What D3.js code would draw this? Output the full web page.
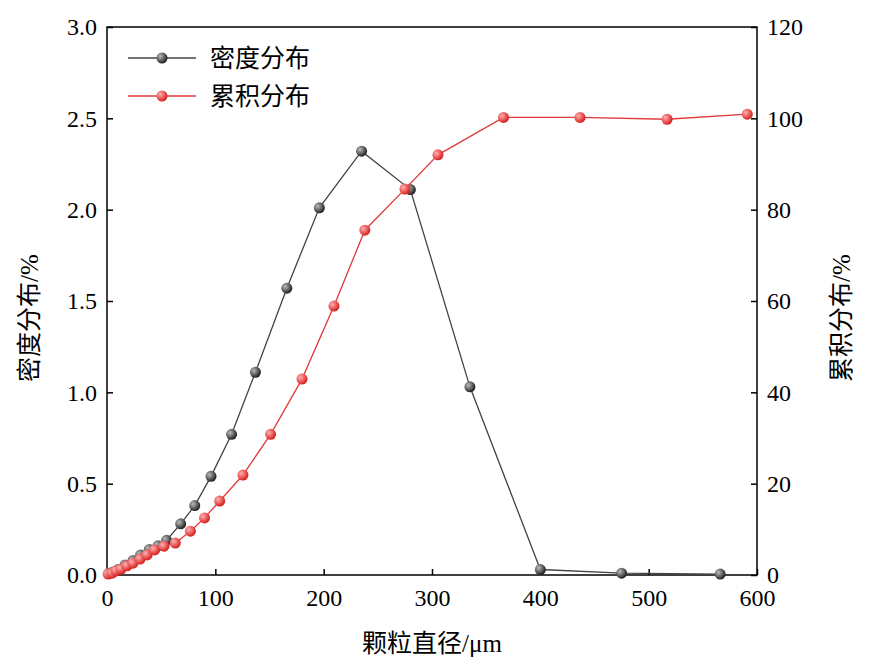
<!DOCTYPE html>
<html><head><meta charset="utf-8">
<script src="https://cdn.jsdelivr.net/npm/d3@7"></script>
<style>body{margin:0;background:#fff}text{font-family:"Liberation Serif","Noto Sans CJK SC",serif}</style>
</head><body>
<script>
// density distribution (%)
var densX = [2,5.5,10,16.6,24,31,39,47,55,68,81,96,115,137,166,196,235,280,335,400,475,566];
var densY = [0.01,0.016,0.03,0.055,0.08,0.11,0.14,0.16,0.19,0.28,0.38,0.54,0.77,1.11,1.57,2.01,2.32,2.11,1.03,0.03,0.01,0.005];
// cumulative distribution (%)
var cumX = [1,4.6,8.3,13,18.5,24,30.5,37,44,52.6,63,77,90,104,125.5,151,180,209.5,238,275,305.5,366,436.6,517,591];
var cumY = [0.2,0.4,0.9,1.3,2,2.6,3.5,4.4,5.5,6.3,7,9.6,12.5,16.2,21.9,30.8,42.9,58.9,75.5,84.5,92,100.2,100.2,99.8,100.9];
var xTicks = [0,100,200,300,400,500,600];
var yTicks = [0,0.5,1,1.5,2,2.5,3];
var y2Ticks = [0,20,40,60,80,100,120];

var w = 875, h = 670;
var svg = d3.select("body").append("svg").attr("width", w).attr("height", h);
var x = d3.scaleLinear().domain([0,600]).range([107,757]);
var y = d3.scaleLinear().domain([0,3]).range([575,27]);
var y2 = d3.scaleLinear().domain([0,120]).range([575,27]);

var defs = svg.append("defs");
function grad(id, c0, c1) {
    var g = defs.append("radialGradient").attr("id", id).attr("cx","35%").attr("cy","35%").attr("r","65%");
    g.append("stop").attr("offset","0%").attr("stop-color", c0);
    g.append("stop").attr("offset","100%").attr("stop-color", c1);
}
grad("gk", "#bbbbbb", "#222222");
grad("gr", "#ffb0b0", "#d82020");

// frame
svg.append("rect").attr("x",107).attr("y",27).attr("width",650).attr("height",548)
    .attr("fill","none").attr("stroke","#000").attr("stroke-width",1.5);

function styleAxis(g) {
    g.selectAll("path").remove();
    g.selectAll("line").attr("stroke","#000").attr("stroke-width",1.5);
    g.selectAll("text").attr("font-size",24).attr("fill","#000");
}
svg.append("g").attr("transform","translate(0,575)")
    .call(d3.axisBottom(x).tickValues(xTicks).tickSize(-6).tickPadding(14)).call(styleAxis);
svg.append("g").attr("transform","translate(107,0)")
    .call(d3.axisLeft(y).tickValues(yTicks).tickFormat(d3.format(".1f")).tickSize(-6).tickPadding(10)).call(styleAxis);
svg.append("g").attr("transform","translate(757,0)")
    .call(d3.axisRight(y2).tickValues(y2Ticks).tickSize(-6).tickPadding(10)).call(styleAxis);

// labels
svg.append("text").attr("x",432).attr("y",652).attr("text-anchor","middle").attr("font-size",25).text("颗粒直径/μm");
svg.append("text").attr("transform","translate(38,318) rotate(-90)").attr("text-anchor","middle").attr("font-size",25).text("密度分布/%");
svg.append("text").attr("transform","translate(850,318) rotate(-90)").attr("text-anchor","middle").attr("font-size",25).text("累积分布/%");

function series(xs, ys, ys2, color, gid) {
    var pts = xs.map(function(d,i){ return [x(d), ys2(ys[i])]; });
    svg.append("path").attr("d", d3.line()(pts)).attr("fill","none").attr("stroke",color).attr("stroke-width",1.3);
    svg.append("g").selectAll("circle").data(pts).enter().append("circle")
        .attr("cx", function(d){ return d[0]; }).attr("cy", function(d){ return d[1]; })
        .attr("r",5.5).attr("fill","url(#"+gid+")");
}
series(densX, densY, y, "#444", "gk");
series(cumX, cumY, y2, "#e03a3a", "gr");

// legend
var leg = [["密度分布","#444","gk"],["累积分布","#e03a3a","gr"]];
leg.forEach(function(l,i){
    var ly = 58 + i*38;
    svg.append("line").attr("x1",128).attr("x2",196).attr("y1",ly).attr("y2",ly).attr("stroke",l[1]).attr("stroke-width",1.3);
    svg.append("circle").attr("cx",162).attr("cy",ly).attr("r",5.5).attr("fill","url(#"+l[2]+")");
    svg.append("text").attr("x",210).attr("y",ly+9).attr("font-size",25).text(l[0]);
});
</script>
</body></html>
